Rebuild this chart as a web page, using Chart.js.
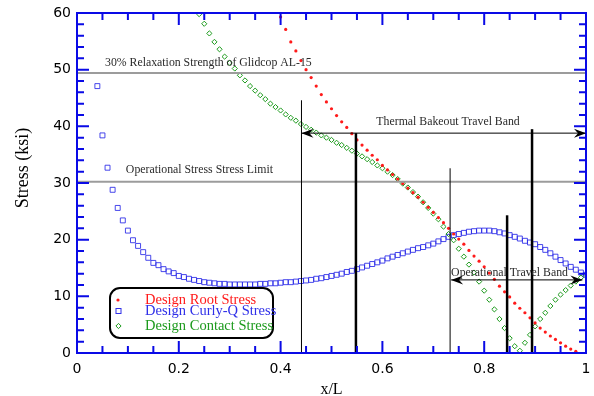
<!DOCTYPE html>
<html lang="en">
<head>
<meta charset="UTF-8">
<title>Design Stress vs x/L</title>
<script src="https://cdn.jsdelivr.net/npm/chart.js"></script>
<style>
  html, body { margin: 0; padding: 0; background: #fff; }
</style>
</head>
<body>
<canvas id="stressChart" width="594" height="396"></canvas>
<script>
// Design Root Stress (red dots)
const rootX = [0.40, 0.41, 0.42, 0.43, 0.44, 0.45, 0.46, 0.47, 0.48, 0.49,
  0.50, 0.51, 0.52, 0.53, 0.54, 0.55, 0.56, 0.57, 0.58, 0.59,
  0.60, 0.61, 0.62, 0.63, 0.64, 0.65, 0.66, 0.67, 0.68, 0.69,
  0.70, 0.71, 0.72, 0.73, 0.74, 0.75, 0.76, 0.77, 0.78, 0.79,
  0.80, 0.81, 0.82, 0.83, 0.84, 0.85, 0.86, 0.87, 0.88, 0.89,
  0.90, 0.91, 0.92, 0.93, 0.94, 0.95, 0.96, 0.97, 0.98];
const rootStress = [59.3, 57.1, 54.9, 53.3, 51.6, 50.0, 48.6, 47.1, 45.6, 44.3,
  43.1, 41.9, 40.8, 39.8, 38.7, 37.6, 36.7, 35.8, 34.9, 34.1,
  33.1, 32.3, 31.5, 30.7, 29.9, 29.1, 28.3, 27.5, 26.6, 25.7,
  24.8, 23.9, 23.0, 22.0, 21.0, 20.1, 19.2, 18.1, 17.1, 16.2,
  15.2, 14.1, 13.0, 11.8, 10.8, 9.9, 8.8, 7.9, 7.1, 6.2,
  5.3, 4.4, 3.7, 3.0, 2.4, 1.8, 1.2, 0.7, 0.3];

// Design Curly-Q Stress (blue squares)
const curlyX = [0.04, 0.05, 0.06, 0.07, 0.08, 0.09,
  0.10, 0.11, 0.12, 0.13, 0.14, 0.15, 0.16, 0.17, 0.18, 0.19,
  0.20, 0.21, 0.22, 0.23, 0.24, 0.25, 0.26, 0.27, 0.28, 0.29,
  0.30, 0.31, 0.32, 0.33, 0.34, 0.35, 0.36, 0.37, 0.38, 0.39,
  0.40, 0.41, 0.42, 0.43, 0.44, 0.45, 0.46, 0.47, 0.48, 0.49,
  0.50, 0.51, 0.52, 0.53, 0.54, 0.55, 0.56, 0.57, 0.58, 0.59,
  0.60, 0.61, 0.62, 0.63, 0.64, 0.65, 0.66, 0.67, 0.68, 0.69,
  0.70, 0.71, 0.72, 0.73, 0.74, 0.75, 0.76, 0.77, 0.78, 0.79,
  0.80, 0.81, 0.82, 0.83, 0.84, 0.85, 0.86, 0.87, 0.88, 0.89,
  0.90, 0.91, 0.92, 0.93, 0.94, 0.95, 0.96, 0.97, 0.98, 0.99, 1.00];
const curlyStress = [47.1, 38.4, 32.7, 28.8, 25.6, 23.4,
  21.6, 19.9, 18.9, 17.8, 16.8, 15.9, 15.5, 14.8, 14.4, 14.1,
  13.6, 13.4, 13.1, 12.9, 12.7, 12.5, 12.4, 12.3, 12.2, 12.2,
  12.1, 12.1, 12.1, 12.1, 12.1, 12.1, 12.2, 12.2, 12.3, 12.3,
  12.4, 12.5, 12.5, 12.6, 12.7, 12.8, 12.9, 13.1, 13.2, 13.4,
  13.6, 13.8, 14.0, 14.3, 14.5, 14.8, 15.1, 15.4, 15.7, 16.0,
  16.3, 16.7, 17.0, 17.3, 17.6, 17.9, 18.2, 18.5, 18.7, 19.0,
  19.3, 19.7, 20.1, 20.5, 20.8, 21.0, 21.2, 21.4, 21.5, 21.6,
  21.6, 21.6, 21.5, 21.3, 21.1, 20.8, 20.5, 20.2, 19.8, 19.5,
  19.2, 18.7, 18.2, 17.6, 17.0, 16.4, 15.8, 15.2, 14.7, 14.2, 13.8];

// Design Contact Stress (green diamonds)
const contactX = [0.24, 0.25, 0.26, 0.27, 0.28, 0.29,
  0.30, 0.31, 0.32, 0.33, 0.34, 0.35, 0.36, 0.37, 0.38, 0.39,
  0.40, 0.41, 0.42, 0.43, 0.44, 0.45, 0.46, 0.47, 0.48, 0.49,
  0.50, 0.51, 0.52, 0.53, 0.54, 0.55, 0.56, 0.57, 0.58, 0.59,
  0.60, 0.61, 0.62, 0.63, 0.64, 0.65, 0.66, 0.67, 0.68, 0.69,
  0.70, 0.71, 0.72, 0.73, 0.74, 0.75, 0.76, 0.77, 0.78, 0.79,
  0.80, 0.81, 0.82, 0.83, 0.84, 0.85, 0.86, 0.87, 0.88, 0.89,
  0.90, 0.91, 0.92, 0.93, 0.94, 0.95, 0.96, 0.97, 0.98, 0.99, 1.00];
const contactStress = [59.8, 58.1, 56.4, 54.9, 53.6, 52.3,
  51.2, 50.2, 49.0, 48.1, 47.1, 46.3, 45.5, 44.8, 44.0, 43.4,
  42.8, 42.1, 41.5, 41.0, 40.4, 39.9, 39.4, 38.9, 38.4, 38.0,
  37.6, 37.1, 36.7, 36.2, 35.7, 35.2, 34.7, 34.2, 33.7, 33.1,
  32.6, 32.0, 31.4, 30.7, 29.9, 29.2, 28.4, 27.6, 26.6, 25.6,
  24.6, 23.6, 22.3, 21.0, 19.9, 18.4, 17.0, 15.6, 14.2, 12.6,
  11.0, 9.4, 7.7, 6.0, 4.4, 2.6, 1.2, 0.4, 1.8, 3.2,
  4.7, 6.0, 7.1, 8.3, 9.4, 10.3, 11.1, 11.9, 12.6, 13.3, 13.8];

const seriesNames = ['Design Root Stress', 'Design Curly-Q Stress', 'Design Contact Stress'];

// reference levels and travel bands
const limitLevels = [49.4, 30.2];
const limitLabels = ['30% Relaxation Strength of Glidcop AL-15', 'Operational Stress Stress Limit'];
const markerX = [0.441, 0.548, 0.733, 0.845, 0.894];
const markerTop = [44.6, 38.8, 32.6, 24.3, 39.5];
const bandLabels = ['Thermal Bakeout Travel Band', 'Operational Travel Band'];
const bandFrom = [0.441, 0.735];
const bandTo = [1.0, 0.993];
const bandLevel = [38.8, 12.9];

const yTicks = [0, 10, 20, 30, 40, 50, 60];

const axisBlue = '#0a0ae6';
const seriesColors = ['#ff1a1a', '#2f2fe8', '#1c9a1c'];
const markerWidths = [1, 2.5, 1, 2.5, 2.5];

const pairs = (xs, ys) => xs.map((v, i) => ({ x: v, y: ys[i] }));

const datasets = [];

// vertical band markers
markerX.forEach((mx, i) => {
  datasets.push({
    data: [{ x: mx, y: 0 }, { x: mx, y: markerTop[i] }],
    showLine: true, borderColor: '#000', borderWidth: markerWidths[i],
    pointRadius: 0
  });
});
// travel band arrows (shafts)
bandFrom.forEach((bx, i) => {
  datasets.push({
    data: [{ x: bx, y: bandLevel[i] }, { x: bandTo[i], y: bandLevel[i] }],
    showLine: true, borderColor: '#000', borderWidth: 1, pointRadius: 0
  });
});
// stress limit lines
limitLevels.forEach(lv => {
  datasets.push({
    data: [{ x: 0, y: lv }, { x: 1, y: lv }],
    showLine: true, borderColor: '#9c9c9c', borderWidth: 2, pointRadius: 0
  });
});

datasets.push({
  label: seriesNames[0], data: pairs(rootX, rootStress),
  pointStyle: 'circle', pointRadius: 1.6, borderWidth: 0,
  backgroundColor: seriesColors[0], borderColor: seriesColors[0]
});
datasets.push({
  label: seriesNames[2], data: pairs(contactX, contactStress),
  pointStyle: 'rectRot', pointRadius: 2.6, borderWidth: 1,
  backgroundColor: 'rgba(0,0,0,0)', borderColor: seriesColors[2]
});
datasets.push({
  label: seriesNames[1], data: pairs(curlyX, curlyStress),
  pointStyle: 'rect', pointRadius: 3.5, borderWidth: 1,
  backgroundColor: 'rgba(0,0,0,0)', borderColor: 'rgba(40,40,232,0.85)'
});

const serif = 'Liberation Serif, Times New Roman, serif';

const framePlugin = {
  id: 'frame',
  afterDatasetsDraw(chart) {
    const { ctx, chartArea: a, scales: { x, y } } = chart;
    ctx.save();

    // blue frame + inward ticks on all four sides
    ctx.strokeStyle = axisBlue;
    ctx.lineWidth = 2;
    ctx.strokeRect(a.left, a.top, a.right - a.left, a.bottom - a.top);
    ctx.beginPath();
    for (let k = 0; k <= 20; k++) {
      const px = x.getPixelForValue(k * 0.05);
      const len = k % 4 === 0 ? 12 : 7;
      ctx.moveTo(px, a.bottom); ctx.lineTo(px, a.bottom - len);
      ctx.moveTo(px, a.top); ctx.lineTo(px, a.top + len);
    }
    for (let k = 0; k <= 30; k++) {
      const py = y.getPixelForValue(k * 2);
      const len = k % 5 === 0 ? 12 : 7;
      ctx.moveTo(a.left, py); ctx.lineTo(a.left + len, py);
      ctx.moveTo(a.right, py); ctx.lineTo(a.right - len, py);
    }
    ctx.stroke();

    // arrow heads
    ctx.fillStyle = '#000';
    const head = (tx, ty, dir) => {
      ctx.beginPath();
      ctx.moveTo(tx, ty);
      ctx.lineTo(tx - dir * 12, ty - 4.5);
      ctx.lineTo(tx - dir * 8, ty);
      ctx.lineTo(tx - dir * 12, ty + 4.5);
      ctx.closePath();
      ctx.fill();
    };
    bandFrom.forEach((bx, i) => {
      const py = y.getPixelForValue(bandLevel[i]);
      head(x.getPixelForValue(bx), py, -1);
      head(x.getPixelForValue(bandTo[i]), py, 1);
    });

    // annotation text
    ctx.fillStyle = '#2a2a2a';
    ctx.font = '11.8px ' + serif;
    ctx.textBaseline = 'middle';
    ctx.textAlign = 'left';
    ctx.fillText(limitLabels[0], x.getPixelForValue(0.055), y.getPixelForValue(limitLevels[0]) - 10);
    ctx.fillText(limitLabels[1], x.getPixelForValue(0.096), y.getPixelForValue(limitLevels[1]) - 12);
    ctx.textAlign = 'center';
    ctx.fillText(bandLabels[0], x.getPixelForValue(0.729), y.getPixelForValue(bandLevel[0]) - 11);
    ctx.textAlign = 'left';
    ctx.fillText(bandLabels[1], x.getPixelForValue(bandFrom[1]), y.getPixelForValue(bandLevel[1]) - 7);

    // y axis title
    ctx.save();
    ctx.translate(23, 168);
    ctx.rotate(-Math.PI / 2);
    ctx.textAlign = 'center';
    ctx.fillStyle = '#000';
    ctx.font = '18px ' + serif;
    ctx.fillText('Stress (ksi)', 0, 0);
    ctx.restore();

    // legend box
    const lx = a.left + 33, ly = a.top + 275, lw = 163, lh = 50;
    ctx.strokeStyle = '#000';
    ctx.lineWidth = 2;
    ctx.beginPath();
    ctx.roundRect(lx, ly, lw, lh, 10);
    ctx.stroke();
    const rows = [ly + 12, ly + 23, ly + 38];
    ctx.font = '14.5px ' + serif;
    ctx.textAlign = 'left';
    // root
    ctx.fillStyle = seriesColors[0];
    ctx.beginPath(); ctx.arc(lx + 8, rows[0], 1.6, 0, Math.PI * 2); ctx.fill();
    ctx.fillText(seriesNames[0], lx + 35, rows[0]);
    // curly-q
    ctx.lineWidth = 1;
    ctx.strokeStyle = seriesColors[1];
    ctx.strokeRect(lx + 6, rows[1] - 2.5, 5, 5);
    ctx.fillStyle = seriesColors[1];
    ctx.fillText(seriesNames[1], lx + 35, rows[1]);
    // contact
    ctx.strokeStyle = seriesColors[2];
    ctx.beginPath();
    ctx.moveTo(lx + 8.5, rows[2] - 2.6); ctx.lineTo(lx + 11.1, rows[2]);
    ctx.lineTo(lx + 8.5, rows[2] + 2.6); ctx.lineTo(lx + 5.9, rows[2]);
    ctx.closePath(); ctx.stroke();
    ctx.fillStyle = seriesColors[2];
    ctx.fillText(seriesNames[2], lx + 35, rows[2]);

    ctx.restore();
  }
};

const ctx = document.getElementById('stressChart').getContext('2d');
new Chart(ctx, {
  type: 'scatter',
  data: { datasets },
  options: {
    responsive: false,
    animation: false,
    layout: { padding: { top: 13, right: 8, left: 0, bottom: 0 } },
    plugins: { legend: { display: false }, tooltip: { enabled: false } },
    scales: {
      x: {
        type: 'linear', min: 0, max: 1,
        // grid hidden, tick length only used to push the labels down
        grid: { display: false, drawTicks: true, tickLength: 8 },
        border: { display: false },
        ticks: { stepSize: 0.2, padding: 0, color: '#000', font: { family: 'DejaVu Sans', size: 14 },
                 callback: v => String(+v.toFixed(1)) },
        title: { display: true, text: 'x/L', color: '#000', padding: 0,
                 font: { family: serif, size: 16, lineHeight: 0.75 } },
        afterFit: s => { s.height = 43; }
      },
      y: {
        type: 'linear', min: 0, max: 60,
        grid: { display: false, drawTicks: true, tickLength: 6 },
        border: { display: false },
        afterBuildTicks: s => { s.ticks = yTicks.map(v => ({ value: v })); },
        ticks: { padding: 0, color: '#000', font: { family: 'DejaVu Sans', size: 14 } },
        afterFit: s => { s.width = 77; }
      }
    }
  },
  plugins: [framePlugin]
});
</script>
</body>
</html>
